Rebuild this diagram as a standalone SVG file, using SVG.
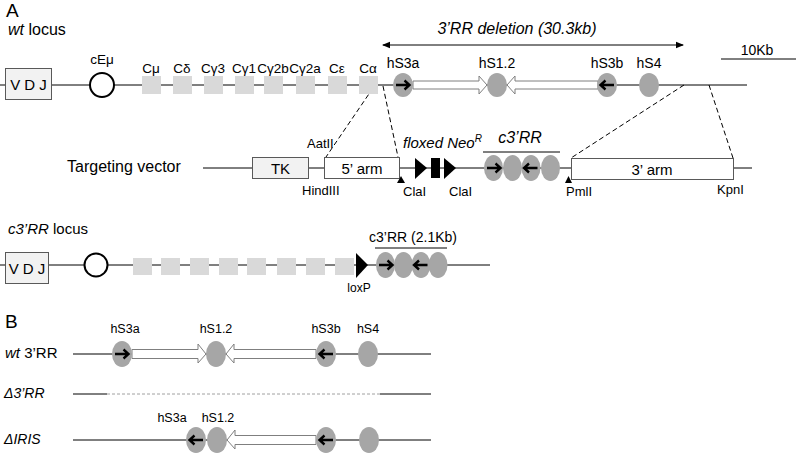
<svg xmlns="http://www.w3.org/2000/svg" width="796" height="453" viewBox="0 0 796 453">
<style>
text{font-family:"Liberation Sans",Arial,sans-serif;fill:#000}
.ln{stroke:#000;stroke-width:1;fill:none}
.dash{stroke:#000;stroke-width:1;fill:none;stroke-dasharray:5,3}
.sq{fill:#d9d9d9}
.el{fill:#a6a6a6}
.oa{fill:#fff;stroke:#7f7f7f;stroke-width:1}
.ba{fill:none;stroke:#000;stroke-width:2.4;stroke-linecap:butt}
.box{fill:#f2f2f2;stroke:#595959;stroke-width:1}
.wbox{fill:#fff;stroke:#595959;stroke-width:1}
.it{font-style:italic}
.c{text-anchor:middle}
</style>
<defs>
<marker id="ah" markerWidth="8" markerHeight="8" refX="7" refY="4" orient="auto" markerUnits="userSpaceOnUse">
<path d="M0,0.8 L8,4 L0,7.2 Z" fill="#000"/>
</marker>
<marker id="ahs" markerWidth="8" markerHeight="8" refX="1" refY="4" orient="auto" markerUnits="userSpaceOnUse">
<path d="M8,0.8 L0,4 L8,7.2 Z" fill="#000"/>
</marker>
</defs>

<!-- Labels -->
<g id="labels">
<text x="6" y="17" font-size="19">A</text>
<text x="8" y="35" font-size="16"><tspan class="it">wt</tspan> locus</text>
<text x="67" y="172" font-size="16">Targeting vector</text>
<text x="8" y="234" font-size="15"><tspan class="it">c3’RR</tspan> locus</text>
<text x="5" y="328" font-size="19">B</text>
<text x="5" y="358" font-size="15"><tspan class="it">wt</tspan> 3’RR</text>
<text x="4" y="398" font-size="14" class="it">Δ3’RR</text>
<text x="4" y="444" font-size="14" class="it">ΔIRIS</text>
</g>

<!-- Connectors / lines -->
<g id="connectors">
<line class="ln" x1="0" y1="85" x2="747" y2="85"/>
<line class="ln" x1="203" y1="168" x2="752" y2="168"/>
<line class="ln" x1="0" y1="265" x2="490" y2="265"/>
<line class="ln" x1="73" y1="354" x2="431" y2="354"/>
<line class="ln" x1="73" y1="394" x2="107" y2="394"/>
<line x1="107" y1="394" x2="380" y2="394" stroke="#a0a0a0" stroke-width="1" stroke-dasharray="3,2"/>
<line class="ln" x1="380" y1="394" x2="431" y2="394"/>
<line class="ln" x1="73" y1="440" x2="431" y2="440"/>
<line class="dash" x1="373" y1="88" x2="326" y2="157"/>
<line class="dash" x1="383" y1="86" x2="398" y2="157"/>
<line class="dash" x1="684" y1="85" x2="571" y2="158"/>
<line class="dash" x1="709" y1="85" x2="733" y2="158"/>
<line class="ln" x1="383" y1="45" x2="683" y2="45" marker-start="url(#ahs)" marker-end="url(#ah)"/>
<line class="ln" x1="721" y1="59" x2="796" y2="59"/>
<line class="ln" x1="483" y1="152" x2="560" y2="152"/>
<line class="ln" x1="375" y1="248" x2="447" y2="248"/>
</g>

<!-- wt locus -->
<g id="wt-locus">
<g id="vdj1"><rect class="box" x="5.5" y="68.5" width="46" height="31"/><text x="28.5" y="90" font-size="15" class="c">V D J</text></g>
<g id="cemu1"><circle cx="102" cy="85" r="12" fill="#fff" stroke="#000" stroke-width="2"/><text x="102" y="64" font-size="13.5" class="c">cEμ</text></g>
<g id="cmu"><rect class="sq" x="142" y="76" width="19" height="18"/><text x="151" y="73" font-size="13.5" class="c">Cμ</text></g>
<g id="cdelta"><rect class="sq" x="173" y="76" width="19" height="18"/><text x="182" y="73" font-size="13.5" class="c">Cδ</text></g>
<g id="cg3"><rect class="sq" x="204" y="76" width="19" height="18"/><text x="213" y="73" font-size="13.5" class="c">Cγ3</text></g>
<g id="cg1"><rect class="sq" x="235" y="76" width="19" height="18"/><text x="244" y="73" font-size="13.5" class="c">Cγ1</text></g>
<g id="cg2b"><rect class="sq" x="264" y="76" width="19" height="18"/><text x="273" y="73" font-size="13.5" class="c">Cγ2b</text></g>
<g id="cg2a"><rect class="sq" x="296" y="76" width="19" height="18"/><text x="305" y="73" font-size="13.5" class="c">Cγ2a</text></g>
<g id="ceps"><rect class="sq" x="328" y="76" width="19" height="18"/><text x="337" y="73" font-size="13.5" class="c">Cε</text></g>
<g id="calpha"><rect class="sq" x="359" y="76" width="19" height="18"/><text x="368" y="73" font-size="13.5" class="c">Cα</text></g>
<path class="oa" d="M413,81 L479,81 L479,76 L487,85 L479,94 L479,89 L413,89 Z"/>
<path class="oa" d="M598,81 L515,81 L515,76 L507,85 L515,94 L515,89 L598,89 Z"/>
<g id="hs3a1"><ellipse class="el" cx="403" cy="85" rx="10" ry="12"/><path class="ba" d="M396,85 H409 M404.5,80.5 L409.5,85 L404.5,89.5"/><text x="403" y="68" font-size="14" class="c">hS3a</text></g>
<g id="hs12a"><ellipse class="el" cx="497" cy="85" rx="10" ry="12"/><text x="497" y="68" font-size="14" class="c">hS1.2</text></g>
<g id="hs3b1"><ellipse class="el" cx="607" cy="85" rx="10" ry="12"/><path class="ba" d="M614,85 H601 M605.5,80.5 L600.5,85 L605.5,89.5"/><text x="607" y="68" font-size="14" class="c">hS3b</text></g>
<g id="hs4a"><ellipse class="el" cx="649" cy="85" rx="10" ry="12"/><text x="649" y="68" font-size="14" class="c">hS4</text></g>
<text x="517" y="34" font-size="16" class="c it">3’RR deletion (30.3kb)</text>
<text x="757" y="55" font-size="14" class="c">10Kb</text>
</g>

<!-- Targeting vector -->
<g id="vector">
<g id="tk"><rect class="box" x="252.5" y="157.5" width="56" height="21"/><text x="280.5" y="174" font-size="15" class="c">TK</text></g>
<g id="arm5"><rect class="wbox" x="324.5" y="157.5" width="75" height="21"/><text x="362" y="174" font-size="15" class="c">5’ arm</text></g>
<g id="arm3"><rect class="wbox" x="571.5" y="158.5" width="162" height="21"/><text x="652" y="175" font-size="15" class="c">3’ arm</text></g>
<text x="307" y="148" font-size="13">AatII</text>
<text x="302" y="195" font-size="13">HindIII</text>
<path d="M397,183 L401,176 L405,183 Z" fill="#000"/>
<text x="403" y="196" font-size="13">ClaI</text>
<g id="neo">
<path d="M415,158 L427,168 L415,179 Z" fill="#000"/>
<rect x="431" y="158" width="9" height="20" fill="#000"/>
<path d="M444,158 L456,168 L444,179 Z" fill="#000"/>
<text x="403" y="148" font-size="15" class="it">floxed Neo<tspan font-size="10" dy="-6">R</tspan></text>
</g>
<text x="449" y="196" font-size="13">ClaI</text>
<g id="c3rr-v">
<ellipse class="el" cx="493.5" cy="168" rx="9.5" ry="13"/>
<ellipse class="el" cx="512.5" cy="168" rx="9.5" ry="13"/>
<ellipse class="el" cx="531" cy="168" rx="9.5" ry="13"/>
<ellipse class="el" cx="550.5" cy="168" rx="9.5" ry="13"/>
<path class="ba" d="M487,168 H500 M495.5,163.5 L500.5,168 L495.5,172.5"/>
<path class="ba" d="M537.5,168 H524.5 M529,163.5 L524,168 L529,172.5"/>
<text x="520" y="143" font-size="16" class="c it">c3’RR</text>
</g>
<path d="M565,183 L568.5,176 L572,183 Z" fill="#000"/>
<text x="566" y="196" font-size="13">PmlI</text>
<text x="717" y="194" font-size="13">KpnI</text>
</g>

<!-- c3'RR locus -->
<g id="c3rr-locus">
<g id="vdj2"><rect class="box" x="5.5" y="252.5" width="43" height="31"/><text x="27" y="274" font-size="15" class="c">V D J</text></g>
<circle cx="96" cy="265" r="11.5" fill="#fff" stroke="#000" stroke-width="2"/>
<rect class="sq" x="133" y="258" width="19" height="17"/>
<rect class="sq" x="161" y="258" width="19" height="17"/>
<rect class="sq" x="190" y="258" width="19" height="17"/>
<rect class="sq" x="219" y="258" width="19" height="17"/>
<rect class="sq" x="247" y="258" width="19" height="17"/>
<rect class="sq" x="277" y="258" width="19" height="17"/>
<rect class="sq" x="306" y="258" width="19" height="17"/>
<rect class="sq" x="335" y="258" width="19" height="17"/>
<path d="M356,253 L368,265 L356,278 Z" fill="#000"/>
<text x="359" y="292" font-size="12" class="c">loxP</text>
<ellipse class="el" cx="385.5" cy="265" rx="9.5" ry="13"/>
<ellipse class="el" cx="403.5" cy="265" rx="9.5" ry="13"/>
<ellipse class="el" cx="421" cy="265" rx="9.5" ry="13"/>
<ellipse class="el" cx="438" cy="265" rx="9.5" ry="13"/>
<path class="ba" d="M379,265 H392 M387.5,260.5 L392.5,265 L387.5,269.5"/>
<path class="ba" d="M427.5,265 H414.5 M419,260.5 L414,265 L419,269.5"/>
<text x="413" y="242" font-size="14" class="c">c3’RR (2.1Kb)</text>
</g>

<!-- Part B -->
<g id="wt-3rr">
<path class="oa" d="M132,349.5 L198,349.5 L198,344 L206,354 L198,363 L198,358.5 L132,358.5 Z"/>
<path class="oa" d="M316,349.5 L234,349.5 L234,344 L226,354 L234,363 L234,358.5 L316,358.5 Z"/>
<ellipse class="el" cx="122" cy="354" rx="10" ry="13"/>
<path class="ba" d="M115,354 H128 M123.5,349.5 L128.5,354 L123.5,358.5"/>
<ellipse class="el" cx="216" cy="354" rx="10" ry="13"/>
<ellipse class="el" cx="326" cy="354" rx="10" ry="13"/>
<path class="ba" d="M333,354 H320 M324.5,349.5 L319.5,354 L324.5,358.5"/>
<ellipse class="el" cx="368" cy="354" rx="10" ry="13"/>
<text x="125" y="333" font-size="12.5" class="c">hS3a</text>
<text x="216" y="333" font-size="12.5" class="c">hS1.2</text>
<text x="326" y="333" font-size="12.5" class="c">hS3b</text>
<text x="368" y="333" font-size="12.5" class="c">hS4</text>
</g>
<g id="diris">
<path class="oa" d="M316,435.5 L235,435.5 L235,430 L227,440 L235,449 L235,444.5 L316,444.5 Z"/>
<ellipse class="el" cx="196" cy="440" rx="10" ry="13"/>
<path class="ba" d="M203,440 H190 M194.5,435.5 L189.5,440 L194.5,444.5"/>
<ellipse class="el" cx="217" cy="440" rx="10" ry="13"/>
<ellipse class="el" cx="326" cy="440" rx="10" ry="13"/>
<path class="ba" d="M333,440 H320 M324.5,435.5 L319.5,440 L324.5,444.5"/>
<ellipse class="el" cx="369" cy="440" rx="10" ry="13"/>
<text x="172" y="422" font-size="12.5" class="c">hS3a</text>
<text x="218" y="422" font-size="12.5" class="c">hS1.2</text>
</g>
</svg>
